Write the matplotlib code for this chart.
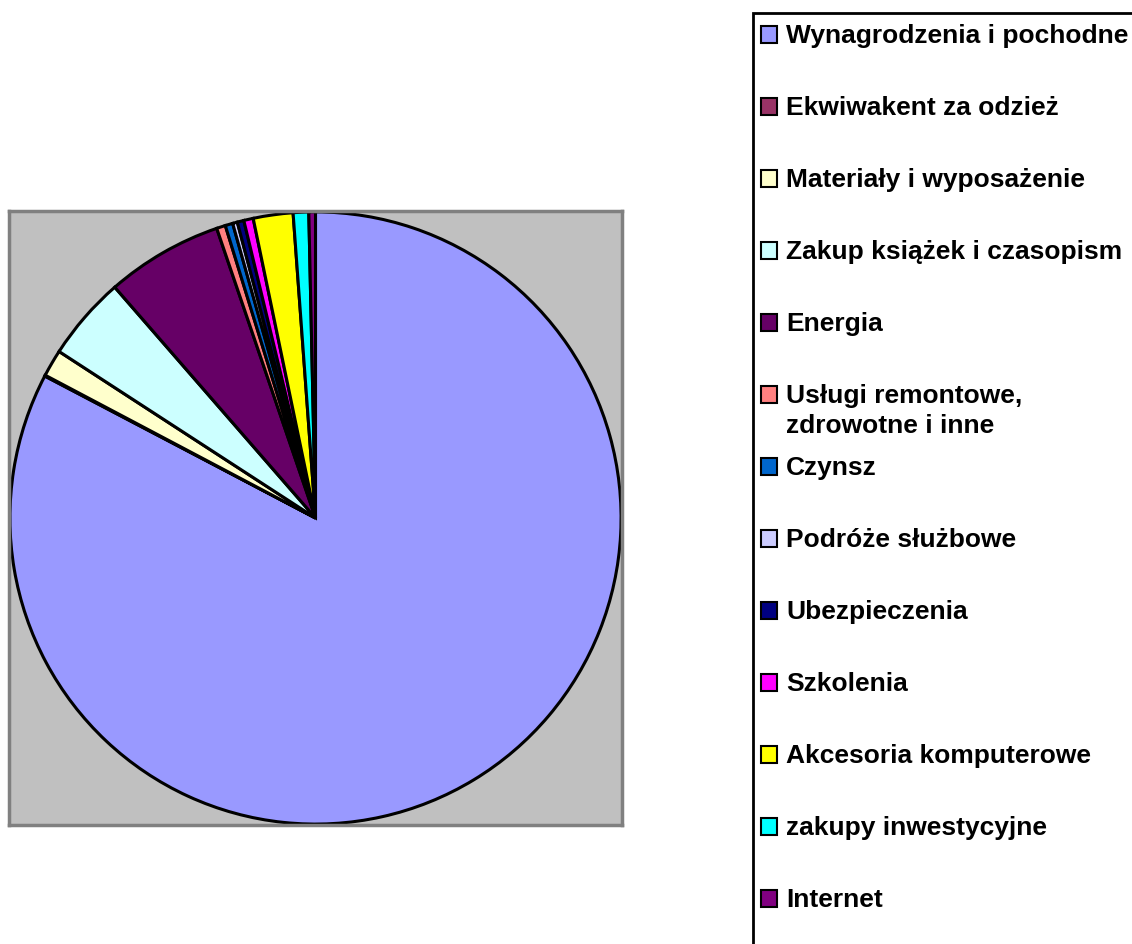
# Pie chart of budget spending with a boxed legend on the right.

import matplotlib
matplotlib.use("Agg")
import matplotlib.pyplot as plt
from matplotlib.patches import Rectangle

labels = [
    "Wynagrodzenia i pochodne",
    "Ekwiwakent za odzież",
    "Materiały i wyposażenie",
    "Zakup książek i czasopism",
    "Energia",
    "Usługi remontowe,\nzdrowotne i inne",
    "Czynsz",
    "Podróże służbowe",
    "Ubezpieczenia",
    "Szkolenia",
    "Akcesoria komputerowe",
    "zakupy inwestycyjne",
    "Internet",
]
# shares in percent
values = [82.7, 0.05, 1.43, 4.44, 6.17, 0.47, 0.4, 0.25, 0.35, 0.5, 2.1, 0.82, 0.35]
colors = [
    "#9999FF", "#993366", "#FFFFCC", "#CCFFFF", "#660066", "#FF8080",
    "#0066CC", "#CCCCFF", "#000080", "#FF00FF", "#FFFF00", "#00FFFF", "#800080",
]

W, H = 1132, 944
fig = plt.figure(figsize=(W / 100, H / 100), dpi=100)
plt.rcParams["font.family"] = ["Liberation Sans", "DejaVu Sans"]

# Plot area (gray box) in pixels: x 9..622, y 211..825
left, top, right, bottom = 9, 211, 622, 825
ax = fig.add_axes([left / W, (H - bottom) / H, (right - left) / W, (bottom - top) / H])

ax.pie(values, colors=colors, startangle=90, counterclock=False, frame=True,
       wedgeprops=dict(edgecolor="black", linewidth=2.2))
ax.set_facecolor("#C0C0C0")
for s in ax.spines.values():
    s.set_visible(True)
    s.set_color("#808080")
    s.set_linewidth(2.5)
ax.set_xlim(-1.003, 1.003)
ax.set_ylim(-1.003, 1.003)
ax.set_aspect("auto")
ax.set_xticks([])
ax.set_yticks([])

# Legend drawn on an overlay in pixel coordinates
lg = fig.add_axes([0, 0, 1, 1], facecolor="none")
lg.set_xlim(0, W)
lg.set_ylim(H, 0)
lg.axis("off")
lg.add_patch(Rectangle((753, 13), 420, 960, facecolor="white",
                       edgecolor="black", linewidth=2, zorder=1))

base = 43
step = 72
for i, (lab, col) in enumerate(zip(labels, colors)):
    y = base + i * step
    lg.add_patch(Rectangle((761, y - 17), 16, 17, facecolor=col,
                           edgecolor="black", linewidth=1.5, zorder=2))
    for k, line in enumerate(lab.split("\n")):
        lg.text(786, y + k * 30, line, fontsize=19, fontweight="bold",
                va="baseline", ha="left", zorder=3)

fig.savefig("out.png", dpi=100)
